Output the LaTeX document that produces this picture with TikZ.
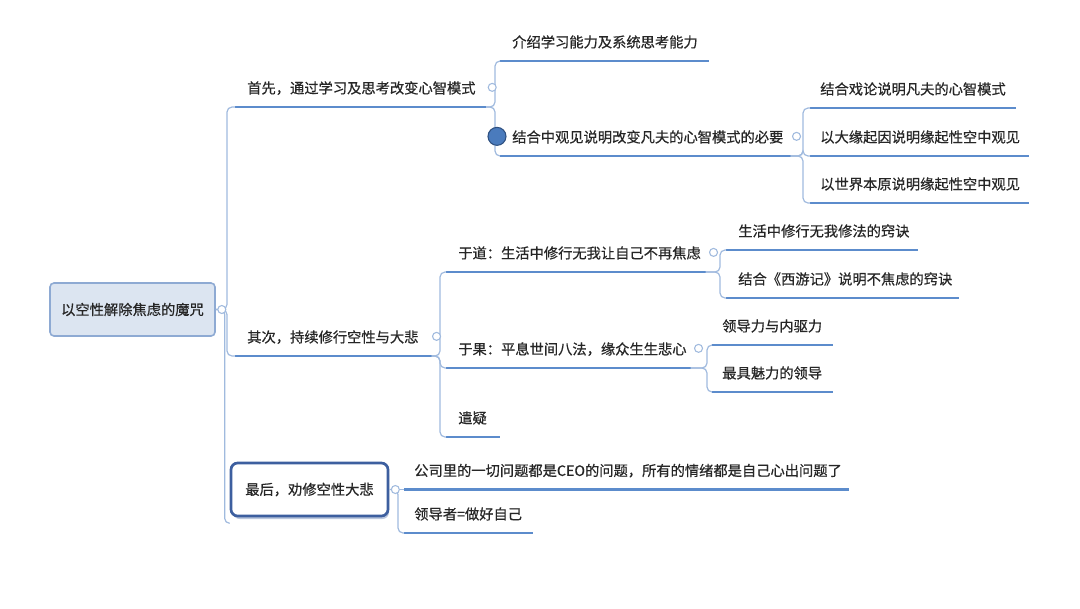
\documentclass[tikz,border=0pt]{standalone}
\usepackage{fontspec}
\usepackage{xcolor}
\usepackage{tikz}
\usetikzlibrary{calc}
\newfontfamily\cjk[FakeBold=0.6]{Noto Sans CJK SC}
\definecolor{inkgray}{RGB}{38,38,38}
\definecolor{lineblue}{RGB}{92,140,204}
\definecolor{linkblue}{RGB}{160,186,222}
\definecolor{rootfill}{RGB}{220,229,241}
\definecolor{rootedge}{RGB}{142,170,211}
\definecolor{boxedge}{RGB}{61,95,159}
\definecolor{dotblue}{RGB}{74,123,189}
\definecolor{dotedge}{RGB}{46,80,128}

\begin{document}
\begin{tikzpicture}[x=0.75pt, y=-0.75pt,
  topic/.style={font=\cjk\fontsize{10.7}{13}\selectfont, text=inkgray, anchor=south west,
    align=left, inner xsep=12*0.75pt, inner ysep=10pt, text depth=0pt},
  uline/.style={lineblue, line width=2.2pt},
  link/.style={linkblue, line width=0.9pt, rounded corners=5*0.75pt},
  fold/.style={circle, draw=linkblue, fill=white, line width=0.8pt, minimum size=8*0.75pt, inner sep=0pt}]

\useasboundingbox (0,0) rectangle (1080,608);

% --- Root ---
\node[draw=rootedge, fill=rootfill, line width=1.2pt, rounded corners=3pt,
  minimum width=165*0.75pt, minimum height=53*0.75pt, inner sep=0pt,
  font=\cjk\fontsize{10.7}{13}\selectfont, text=inkgray] (root) at (132.5,309.5) {以空性解除焦虑的魔咒};

% --- Level 1 ---
\node[topic, text width=170pt] (b1) at (235,107) {首先，通过学习及思考改变心智模式};
\node[topic, text width=129pt] (b2) at (235,356) {其次，持续修行空性与大悲};
\fill[boxedge!35, rounded corners=5pt] (233,468) rectangle (389,519);
\node[draw=boxedge, fill=white, line width=2pt, rounded corners=5pt,
  minimum width=157*0.75pt, minimum height=53*0.75pt, inner sep=0pt,
  font=\cjk\fontsize{10.7}{13}\selectfont, text=inkgray] (b3) at (309.5,489.5) {最后，劝修空性大悲};

% --- Under b1 ---
\node[topic, text width=138pt] (c1) at (500,61) {介绍学习能力及系统思考能力};
\node[topic, text width=199.5pt] (c2) at (500,156) {结合中观见说明改变凡夫的心智模式的必要};
\node[topic, inner xsep=10*0.75pt, text width=138.75pt] (e1) at (810,108) {结合戏论说明凡夫的心智模式};
\node[topic, inner xsep=10*0.75pt, text width=148.5pt] (e2) at (810,156) {以大缘起因说明缘起性空中观见};
\node[topic, inner xsep=10*0.75pt, text width=148.5pt] (e3) at (810,203) {以世界本原说明缘起性空中观见};

% --- Under b2 ---
\node[topic, text width=176.25pt] (d1) at (446,272) {于道：生活中修行无我让自己不再焦虑};
\node[topic, text width=165pt] (d2) at (446,368) {于果：平息世间八法，缘众生生悲心};
\node[topic, text width=22pt] (d3) at (446,437) {遣疑};
\node[topic, text width=125.25pt] (f1) at (726,250) {生活中修行无我修法的窍诀};
\node[topic, text width=156pt] (f2) at (726,298) {结合《西游记》说明不焦虑的窍诀};
\node[topic, inner xsep=10*0.75pt, text width=75pt] (h1) at (712,345) {领导力与内驱力};
\node[topic, inner xsep=10*0.75pt, text width=75pt] (h2) at (712,392) {最具魅力的领导};

% --- Under b3 ---
\node[topic, inner xsep=10*0.75pt, text width=318pt] (g1) at (404,489.5) {公司里的一切问题都是CEO的问题，所有的情绪都是自己心出问题了};
\node[topic, inner xsep=10*0.75pt, text width=81pt] (g2) at (404,533) {领导者=做好自己};

% --- Underlines ---
\foreach \n in {b1,b2,c1,c2,e1,e2,e3,d1,d2,d3,f1,f2,h1,h2,g1,g2}
  \draw[uline] (\n.south west) -- (\n.south east);

% --- Links ---
\draw[link] (root.east) -| ([xshift=-8*0.75pt]b1.south west) -- (b1.south west);
\draw[link] (root.east) -| ([xshift=-8*0.75pt]b2.south west) -- (b2.south west);
\draw[link] (root.east) -| ([xshift=-5*0.75pt, yshift=-6*0.75pt]b3.south west) -- ([yshift=-6*0.75pt]b3.south west);
\draw[link] (b1.south east) -| ([xshift=-5*0.75pt]c1.south west) -- (c1.south west);
\draw[link] (b1.south east) -| ([xshift=-5*0.75pt]c2.south west) -- (c2.south west);
\foreach \n in {e1,e2,e3}
  \draw[link] (c2.south east) -| ([xshift=-7*0.75pt]\n.south west) -- (\n.south west);
\foreach \n in {d1,d2,d3}
  \draw[link] (b2.south east) -| ([xshift=-6*0.75pt]\n.south west) -- (\n.south west);
\foreach \n in {f1,f2}
  \draw[link] (d1.south east) -| ([xshift=-6*0.75pt]\n.south west) -- (\n.south west);
\foreach \n in {h1,h2}
  \draw[link] (d2.south east) -| ([xshift=-5*0.75pt]\n.south west) -- (\n.south west);
\draw[link] (b3.east) -- (g1.south west);
\draw[link] (b3.east) -| ([xshift=-6*0.75pt]g2.south west) -- (g2.south west);

% --- Fold marks ---
\node[fold] (rootf) at ([xshift=6*0.75pt]root.east) {};
\node[fold] (b1f) at ([xshift=6*0.75pt]b1.east) {};
\node[fold] (b2f) at ([xshift=5*0.75pt]b2.east) {};
\node[fold] (b3f) at ([xshift=6*0.75pt]b3.east) {};
\node[fold] (c2f) at ([xshift=6*0.75pt]c2.east) {};
\node[fold] (d1f) at ([xshift=8*0.75pt]d1.east) {};
\node[fold] (d2f) at ([xshift=8*0.75pt]d2.east) {};
\node[circle, fill=dotblue, draw=dotedge, line width=0.8pt, minimum size=18*0.75pt, inner sep=0pt] (c2dot) at ([xshift=-3*0.75pt]c2.west) {};

\end{tikzpicture}
\end{document}
